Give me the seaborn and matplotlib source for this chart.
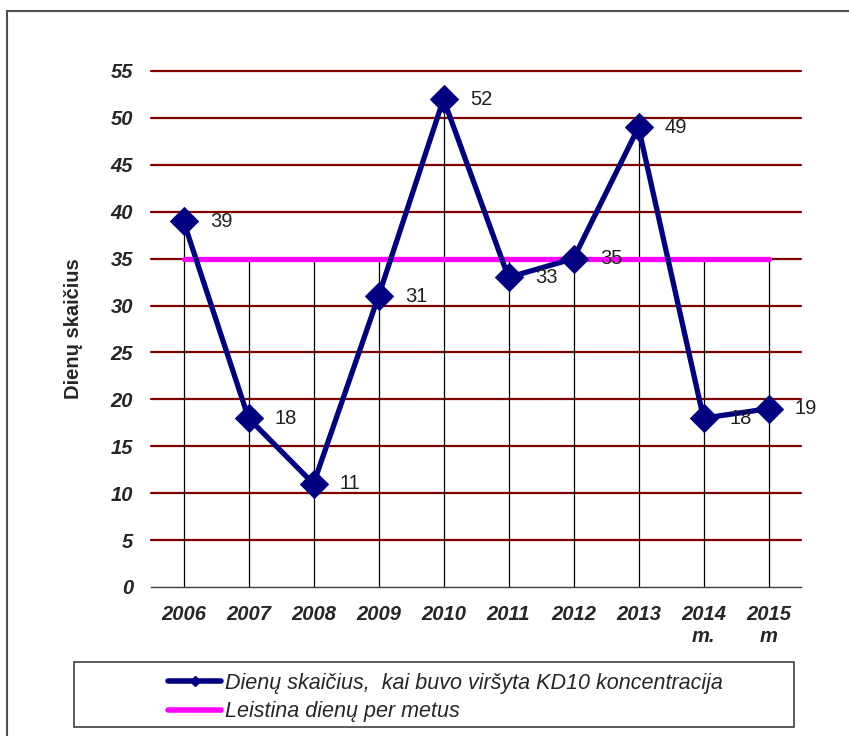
import numpy as np
import pandas as pd
import seaborn as sns
import matplotlib.pyplot as plt
from matplotlib.lines import Line2D
from matplotlib.patches import Rectangle

# data
years = ['2006', '2007', '2008', '2009', '2010', '2011', '2012', '2013', '2014\nm.', '2015\nm']
days = [39, 18, 11, 31, 52, 33, 35, 49, 18, 19]
limit = [35] * 10
y_ticks = [0, 5, 10, 15, 20, 25, 30, 35, 40, 45, 50, 55]

series_name = 'Dienų skaičius,  kai buvo viršyta KD10 koncentracija'
limit_name = 'Leistina dienų per metus'

df = pd.DataFrame({'idx': np.arange(len(years)), 'days': days, 'limit': limit})

sns.set_style('white')
plt.rcParams['font.family'] = ['Liberation Sans', 'DejaVu Sans']

fig = plt.figure(figsize=(8.49, 7.36), dpi=100)
ax = fig.add_axes([151/849, 1 - 587/736, 650/849, 516/736])

# horizontal grid lines (dark red)
for t in y_ticks[1:]:
    ax.axhline(t, color='#800000', lw=1.6, zorder=1, clip_on=False)

# drop lines from the highest series
ax.vlines(df['idx'], 0, np.maximum(df['days'], df['limit']), color='black', lw=0.9, zorder=2)

sns.lineplot(data=df, x='idx', y='limit', ax=ax, color='#FF00FF', lw=3.8, zorder=3)
sns.lineplot(data=df, x='idx', y='days', ax=ax, color='#000080', lw=3.8,
             marker='D', markersize=14, markeredgecolor='#000080', zorder=4, clip_on=False)

for i, v in enumerate(days):
    ax.annotate(str(v), (i, v), xytext=(19, 0), textcoords='offset points',
                va='center', ha='left', fontsize=14.5, color='#202020', zorder=5)

ax.set_xlim(-0.5, len(years) - 0.5)
ax.set_ylim(0, 55)
ax.set_yticks(y_ticks)
ax.set_yticklabels([str(t) for t in y_ticks], fontsize=14.5, fontweight='bold', style='italic')
ax.set_xticks(df['idx'])
ax.set_xticklabels(years, fontsize=14.5, fontweight='bold', style='italic', va='top',
                   linespacing=1.2)
ax.set_xticks(np.arange(-0.5, len(years)), minor=True)
ax.tick_params(axis='x', which='major', length=0, pad=13)
ax.tick_params(axis='x', which='minor', length=5, width=1, color='#404040', direction='out')
ax.tick_params(axis='y', length=0, pad=13)

for s in ['top', 'right', 'left']:
    ax.spines[s].set_visible(False)
ax.spines['bottom'].set_color('#404040')
ax.spines['bottom'].set_linewidth(1)
ax.set_xlabel('')
ax.set_ylabel('Dienų skaičius', fontsize=14.5, fontweight='bold', labelpad=20)

# outer frame
fig.patches.append(Rectangle((7/849, -0.05), 1.1, 1 - 11/736 + 0.05, transform=fig.transFigure,
                             fill=False, edgecolor='#505050', lw=1.5))

# legend box
fig.patches.append(Rectangle((74/849, 1 - 727/736), 720/849, 65/736, transform=fig.transFigure,
                             fill=False, edgecolor='#404040', lw=1.2))
handles = [Line2D([], [], color='#000080', lw=4, marker='D', markersize=5),
           Line2D([], [], color='#FF00FF', lw=4)]
fig.legend(handles, [series_name, limit_name], loc='upper left',
           bbox_to_anchor=(159/849, 1 - 664/736), frameon=False,
           prop={'size': 15.5, 'style': 'italic'}, handlelength=2.5, handletextpad=0.15,
           labelspacing=0.35, borderaxespad=0)

fig.savefig('out.png', dpi=100)
